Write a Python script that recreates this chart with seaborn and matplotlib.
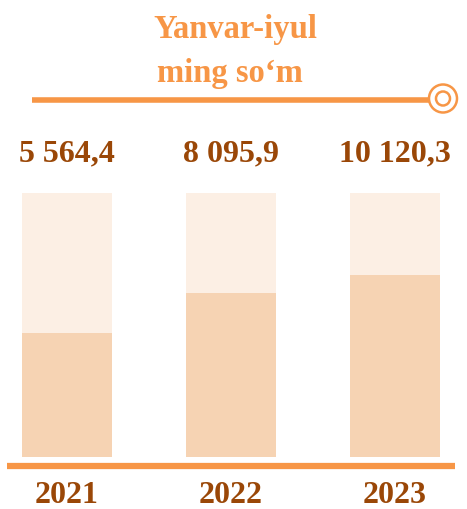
import matplotlib
matplotlib.use("Agg")
import matplotlib.pyplot as plt
import seaborn as sns
import pandas as pd
from matplotlib.patches import Circle

# data
years = ["2021", "2022", "2023"]
values = [5564.4, 8095.9, 10120.3]
fill_share = [0.47, 0.62, 0.69]   # filled part of each bar
full = [1.0, 1.0, 1.0]

orange = "#F79646"
brown = "#9A4707"
bar_light = "#FCEFE4"
bar_fill = "#F6D3B3"

sns.set_style("white")
plt.rcParams["font.family"] = ["Liberation Serif", "DejaVu Serif"]
plt.rcParams["font.weight"] = "bold"

df = pd.DataFrame({"year": years, "full": full, "fill": fill_share})

fig = plt.figure(figsize=(4.67, 5.09), dpi=100)

# bars
ax = fig.add_axes([0.003, 1 - 457 / 509, 0.983, (457 - 193) / 509])
sns.barplot(data=df, x="year", y="full", color=bar_light, width=0.55,
            saturation=1, linewidth=0, ax=ax)
sns.barplot(data=df, x="year", y="fill", color=bar_fill, width=0.55,
            saturation=1, linewidth=0, ax=ax)
ax.set_xlim(-0.4, 2.4)
ax.set_ylim(0, 1)
ax.set(xlabel=None, ylabel=None, yticks=[])
sns.despine(ax=ax, left=True, bottom=True)

labels = [f"{v:,.1f}".replace(",", " ").replace(".", ",") for v in values]
ax.bar_label(ax.containers[0], labels=labels, padding=18, fontsize=23,
             color=brown, fontweight="bold")
ax.tick_params(axis="x", length=0, pad=17, labelsize=23, labelcolor=brown)
for t in ax.get_xticklabels():
    t.set_fontweight("bold")

# decoration layer (pixel coordinates)
deco = fig.add_axes([0, 0, 1, 1], zorder=5)
deco.set_xlim(0, 467)
deco.set_ylim(509, 0)
deco.axis("off")
deco.patch.set_alpha(0)
deco.plot([7, 455], [466, 466], color=orange, lw=4.5, solid_capstyle="butt")
deco.plot([32, 430], [100, 100], color=orange, lw=4, solid_capstyle="butt")
deco.add_patch(Circle((443, 98.5), 14, fill=False, ec=orange, lw=1.8))
deco.add_patch(Circle((443, 98.5), 7, fill=False, ec=orange, lw=1.8))

fig.text(0.503, 1 - 38 / 509, "Yanvar-iyul", ha="center", va="baseline",
         fontsize=23.5, color=orange, fontweight="bold")
fig.text(0.493, 1 - 82 / 509, "ming so\u2018m", ha="center", va="baseline",
         fontsize=23.5, color=orange, fontweight="bold")

fig.savefig("out.png", dpi=100)
